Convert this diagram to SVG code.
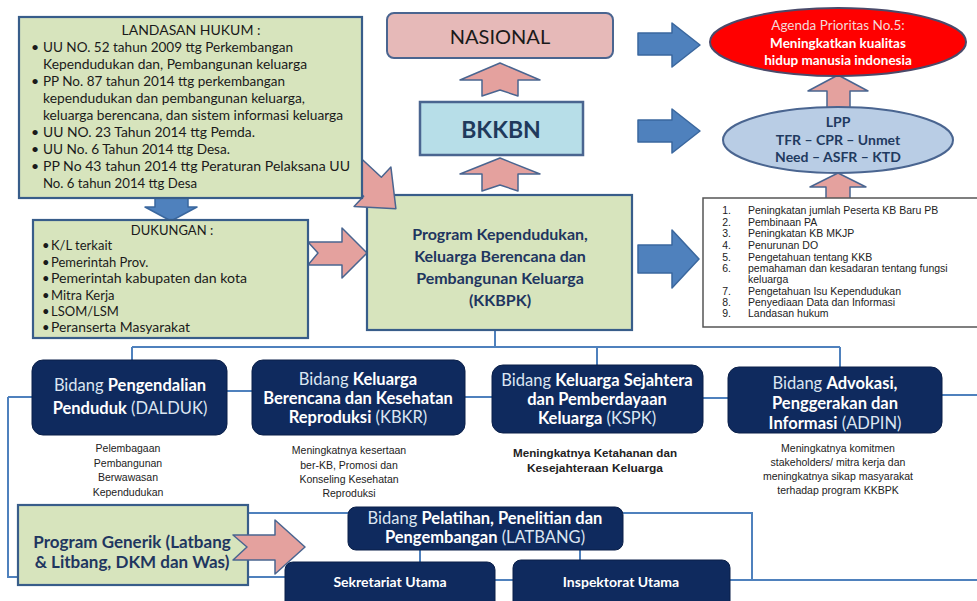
<svg xmlns="http://www.w3.org/2000/svg" width="977" height="601" viewBox="0 0 977 601">
<style>
.bg{fill:#ffffff}
.green{fill:#d7e4bd;stroke:#385d8a;stroke-width:2.2}
.navy{fill:#0f2a5e;stroke:#0a1f48;stroke-width:1}
.pink{fill:#e4a19e;stroke:#4a6590;stroke-width:1.5;stroke-linejoin:round}
.blue{fill:#4f81bd;stroke:#3a679e;stroke-width:1.5;stroke-linejoin:round}
.conn{fill:none;stroke:#4f81bd;stroke-width:2}
.cal{font-family:Lato,"Open Sans","Liberation Sans",sans-serif}
.ar{font-family:"Liberation Sans",Arial,sans-serif}
.lh{font-size:14px;fill:#1a1a1a}
.dk{font-size:13px;fill:#1a1a1a}
.bt{font-size:16.5px;fill:#dce6f2;text-anchor:middle}
.bt .b{font-weight:bold;fill:#ffffff}
.desc{font-size:10.5px;fill:#222;text-anchor:middle}
.list{font-size:10.5px;fill:#222}
</style>
<rect class="bg" x="0" y="0" width="977" height="601"/>

<g id="connectors">
  <path class="conn" d="M495,330 V347 M132,347 H840 M132,347 V360 M597,347 V365 M840,347 V367"/>
  <path class="conn" d="M8,397 H32 M227,391 H252 M465,397 H492 M703,398 H728 M942,395 H977 M8,397 V577 H18"/>
  <path class="conn" d="M248,577 H285 M248,513 H348 M420,550 V562 M495,580 H513 M580,550 V560 M623,513 H752 V580 M730,580 H977"/>
</g>

<g id="arrows">
  <path class="blue" d="M155,197 H188 V207 H197 L171,221 L145,207 H155 Z"/>
  <path class="pink" d="M308,242 H342 V228 L367,253 L342,278 V265 H308 L318,253 Z"/>
  <path class="pink" d="M500,63 L540,80 H518 V96 L500,90 L482,96 V80 H460 Z"/>
  <path class="pink" d="M500,158 L540,174 H518 V191 L500,185 L482,191 V174 H460 Z"/>
  <path class="blue" d="M638,33 H672 V23 L700,45 L672,67 V55 H638 Z"/>
  <path class="blue" d="M638,120 H672 V109 L700,131 L672,153 V142 H638 Z"/>
  <path class="blue" d="M638,245 H672 V230 L699,259 L672,288 V273 H638 Z"/>
  <path class="pink" d="M838,75 L868,91 H850 V110 H827 V91 H808 Z"/>
  <path class="pink" d="M838,173 L866,187 H850 V199 H826 V187 H810 Z"/>
</g>

<g id="nasional">
  <rect x="387" y="13" width="226" height="45" rx="7" fill="#e6b9b8" stroke="#4a6590" stroke-width="2"/>
  <text class="cal" x="500" y="44" font-size="20" fill="#1a1a1a" text-anchor="middle">NASIONAL</text>
</g>

<g id="bkkbn">
  <rect x="420" y="102" width="163" height="53" fill="#b7dee8" stroke="#4a6590" stroke-width="2.5"/>
  <text class="cal" x="501" y="138" font-size="23" font-weight="bold" fill="#1f3a5c" text-anchor="middle">BKKBN</text>
</g>

<g id="agenda">
  <ellipse cx="838" cy="42" rx="128" ry="34" fill="#ff0000" stroke="#4a4a6a" stroke-width="2"/>
  <text class="cal" x="838" y="30" font-size="13.5" fill="#f4d8d8" text-anchor="middle">Agenda Prioritas No.5:</text>
  <text class="cal" x="838" y="48" font-size="13.5" font-weight="bold" fill="#ffffff" text-anchor="middle">Meningkatkan kualitas</text>
  <text class="cal" x="838" y="65" font-size="13.5" font-weight="bold" fill="#ffffff" text-anchor="middle">hidup manusia indonesia</text>
</g>

<g id="lpp">
  <ellipse cx="838" cy="140" rx="115" ry="33" fill="#b9cde5" stroke="#4a6590" stroke-width="2"/>
  <text class="cal" x="838" y="127" font-size="14" font-weight="bold" fill="#1f3a60" text-anchor="middle">LPP</text>
  <text class="cal" x="838" y="145" font-size="14" font-weight="bold" fill="#1f3a60" text-anchor="middle">TFR – CPR – Unmet</text>
  <text class="cal" x="838" y="162" font-size="14" font-weight="bold" fill="#1f3a60" text-anchor="middle">Need –  ASFR – KTD</text>
</g>

<g id="center">
  <rect x="367" y="195" width="265" height="135" class="green"/>
  <g class="cal" font-size="16" font-weight="bold" fill="#1f3660" text-anchor="middle">
    <text x="500" y="240">Program Kependudukan,</text>
    <text x="500" y="262">Keluarga Berencana dan</text>
    <text x="500" y="284">Pembangunan Keluarga</text>
    <text x="500" y="306">(KKBPK)</text>
  </g>
</g>

<g id="arrow-diag">
  <path class="pink" d="M0,-13 H54 V-27 L86,0 L54,27 V13 H0 L10,0 Z" transform="translate(333,150) rotate(43)"/>
</g>

<g id="landasan">
  <rect x="19" y="17" width="343" height="181" class="green"/>
  <g class="cal lh">
    <text x="191" y="35" text-anchor="middle">LANDASAN HUKUM :</text>
    <text x="31" y="52">•</text><text x="43" y="52" textLength="250" lengthAdjust="spacingAndGlyphs">UU NO. 52 tahun 2009 ttg Perkembangan</text>
    <text x="43" y="69" textLength="264" lengthAdjust="spacingAndGlyphs">Kependudukan dan, Pembangunan keluarga</text>
    <text x="31" y="86">•</text><text x="43" y="86" textLength="242" lengthAdjust="spacingAndGlyphs">PP No. 87 tahun 2014 ttg perkembangan</text>
    <text x="43" y="103" textLength="262" lengthAdjust="spacingAndGlyphs">kependudukan dan pembangunan keluarga,</text>
    <text x="43" y="120" textLength="300" lengthAdjust="spacingAndGlyphs">keluarga berencana, dan sistem informasi keluarga</text>
    <text x="31" y="137">•</text><text x="43" y="137" textLength="212" lengthAdjust="spacingAndGlyphs">UU NO. 23 Tahun 2014 ttg Pemda.</text>
    <text x="31" y="154">•</text><text x="43" y="154" textLength="187" lengthAdjust="spacingAndGlyphs">UU No. 6 Tahun 2014 ttg  Desa.</text>
    <text x="31" y="171">•</text><text x="43" y="171" textLength="307" lengthAdjust="spacingAndGlyphs">PP No 43 tahun 2014 ttg  Peraturan Pelaksana UU</text>
    <text x="43" y="188" textLength="154" lengthAdjust="spacingAndGlyphs">No. 6 tahun 2014 ttg Desa</text>
  </g>
</g>

<g id="dukungan">
  <rect x="33" y="220" width="275" height="118" class="green"/>
  <g class="cal dk">
    <text x="172" y="235" text-anchor="middle">DUKUNGAN :</text>
    <text x="42" y="250">•</text><text x="51" y="250">K/L terkait</text>
    <text x="42" y="267">•</text><text x="51" y="267">Pemerintah Prov.</text>
    <text x="42" y="283">•</text><text x="51" y="283" textLength="196" lengthAdjust="spacingAndGlyphs">Pemerintah kabupaten dan kota</text>
    <text x="42" y="300">•</text><text x="51" y="300">Mitra Kerja</text>
    <text x="42" y="316">•</text><text x="51" y="316">LSOM/LSM</text>
    <text x="42" y="332">•</text><text x="51" y="332" textLength="139" lengthAdjust="spacingAndGlyphs">Peranserta Masyarakat</text>
  </g>
</g>

<g id="list">
  <rect x="703" y="198" width="290" height="129" fill="#ffffff" stroke="#555" stroke-width="1.5"/>
  <g class="ar list">
    <g text-anchor="end">
      <text x="731" y="214">1.</text><text x="731" y="226">2.</text><text x="731" y="237">3.</text>
      <text x="731" y="249">4.</text><text x="731" y="261">5.</text><text x="731" y="272">6.</text>
      <text x="731" y="295">7.</text><text x="731" y="306">8.</text><text x="731" y="317">9.</text>
    </g>
    <text x="748" y="214">Peningkatan jumlah Peserta KB Baru PB</text>
    <text x="748" y="226">Pembinaan PA</text>
    <text x="748" y="237">Peningkatan KB MKJP</text>
    <text x="748" y="249">Penurunan DO</text>
    <text x="748" y="261">Pengetahuan tentang KKB</text>
    <text x="748" y="272">pemahaman dan kesadaran tentang fungsi</text>
    <text x="748" y="283">keluarga</text>
    <text x="748" y="295">Pengetahuan Isu Kependudukan</text>
    <text x="748" y="306">Penyediaan Data dan Informasi</text>
    <text x="748" y="317">Landasan hukum</text>
  </g>
</g>

<g id="dalduk">
  <rect x="32" y="360" width="195" height="75" rx="11" class="navy"/>
  <text class="cal bt" x="130" y="391">Bidang <tspan class="b">Pengendalian</tspan></text>
  <text class="cal bt" x="130" y="414"><tspan class="b">Penduduk</tspan> (DALDUK)</text>
  <g class="ar desc"><text x="128" y="452">Pelembagaan</text><text x="128" y="467">Pembangunan</text><text x="128" y="481">Berwawasan</text><text x="128" y="496">Kependudukan</text></g>
</g>

<g id="kbkr">
  <rect x="252" y="360" width="213" height="75" rx="11" class="navy"/>
  <text class="cal bt" x="358" y="385" font-size="15.5">Bidang <tspan class="b">Keluarga</tspan></text>
  <text class="cal bt" x="358" y="404" font-size="15.5"><tspan class="b">Berencana dan Kesehatan</tspan></text>
  <text class="cal bt" x="358" y="423" font-size="15.5"><tspan class="b">Reproduksi</tspan> (KBKR)</text>
  <g class="ar desc"><text x="349" y="454">Meningkatnya kesertaan</text><text x="349" y="469">ber-KB, Promosi dan</text><text x="349" y="483">Konseling Kesehatan</text><text x="349" y="497">Reproduksi</text></g>
</g>

<g id="kspk">
  <rect x="492" y="365" width="211" height="68" rx="11" class="navy"/>
  <text class="cal bt" x="597" y="386" font-size="15">Bidang <tspan class="b">Keluarga Sejahtera</tspan></text>
  <text class="cal bt" x="597" y="405" font-size="15"><tspan class="b">dan Pemberdayaan</tspan></text>
  <text class="cal bt" x="597" y="424" font-size="15"><tspan class="b">Keluarga</tspan> (KSPK)</text>
  <g class="ar desc" font-size="12" fill="#111" font-weight="bold"><text x="595" y="457" textLength="164" lengthAdjust="spacingAndGlyphs">Meningkatnya Ketahanan dan</text><text x="595" y="472" textLength="136" lengthAdjust="spacingAndGlyphs">Kesejahteraan Keluarga</text></g>
</g>

<g id="adpin">
  <rect x="728" y="367" width="214" height="66" rx="11" class="navy"/>
  <text class="cal bt" x="835" y="389" font-size="16">Bidang <tspan class="b">Advokasi,</tspan></text>
  <text class="cal bt" x="835" y="409" font-size="16"><tspan class="b">Penggerakan dan</tspan></text>
  <text class="cal bt" x="835" y="429" font-size="16"><tspan class="b">Informasi</tspan> (ADPIN)</text>
  <g class="ar desc" font-size="10"><text x="838" y="452">Meningkatnya komitmen</text><text x="838" y="466">stakeholders/ mitra kerja dan</text><text x="838" y="480">meningkatnya sikap masyarakat</text><text x="838" y="494">terhadap program KKBPK</text></g>
</g>

<g id="generik">
  <rect x="18" y="505" width="230" height="80" class="green"/>
  <g class="cal" font-size="17" font-weight="bold" fill="#1f3660" text-anchor="middle">
    <text x="132" y="548">Program Generik (Latbang</text>
    <text x="132" y="568">&amp; Litbang, DKM dan Was)</text>
  </g>
</g>

<g id="arrow-generik">
  <path class="pink" d="M233,535 H275 V520 L305,547 L275,574 V560 H233 L247,547 Z"/>
</g>

<g id="latbang">
  <rect x="348" y="507" width="275" height="43" rx="8" class="navy"/>
  <text class="cal bt" x="485" y="524" font-size="13.5">Bidang <tspan class="b">Pelatihan, Penelitian dan</tspan></text>
  <text class="cal bt" x="485" y="543" font-size="13.5"><tspan class="b">Pengembangan</tspan> (LATBANG)</text>
</g>

<g id="sekretariat">
  <rect x="285" y="562" width="210" height="50" rx="8" class="navy"/>
  <text class="cal" x="390" y="587" font-size="14" font-weight="bold" fill="#ffffff" text-anchor="middle">Sekretariat Utama</text>
</g>

<g id="inspektorat">
  <rect x="513" y="560" width="217" height="52" rx="8" class="navy"/>
  <text class="cal" x="621" y="587" font-size="14" font-weight="bold" fill="#ffffff" text-anchor="middle">Inspektorat Utama</text>
</g>
</svg>
